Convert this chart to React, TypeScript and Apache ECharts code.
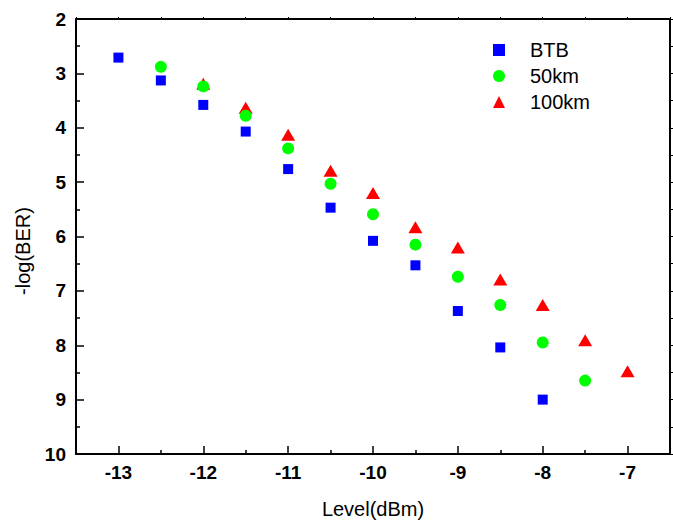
import React, { useEffect, useRef } from "react";
import * as echarts from "echarts";

// Received optical power (dBm) and measured -log(BER) per link
const btbLevel = [-13, -12.5, -12, -11.5, -11, -10.5, -10, -9.5, -9, -8.5, -8];
const btbLogBer = [2.71, 3.13, 3.58, 4.07, 4.76, 5.47, 6.08, 6.53, 7.37, 8.04, 9.0];

const km50Level = [-12.5, -12, -11.5, -11, -10.5, -10, -9.5, -9, -8.5, -8, -7.5];
const km50LogBer = [2.88, 3.24, 3.78, 4.38, 5.03, 5.59, 6.15, 6.74, 7.26, 7.95, 8.65];

const km100Level = [-12, -11.5, -11, -10.5, -10, -9.5, -9, -8.5, -8, -7.5, -7];
const km100LogBer = [3.19, 3.63, 4.13, 4.79, 5.2, 5.83, 6.2, 6.79, 7.26, 7.91, 8.48];

const xMajorTicks = [-13, -12, -11, -10, -9, -8, -7];
const xMinorTicks = [-12.5, -11.5, -10.5, -9.5, -8.5, -7.5];
const xHalfTicks = [-13.5, -13, -12.5, -12, -11.5, -11, -10.5, -10, -9.5, -9, -8.5, -8, -7.5, -7, -6.5];

const seriesNames = ["BTB", "50km", "100km"];

const FONT = "Arial, 'Liberation Sans', Helvetica, sans-serif";

const pairs = (xs: number[], ys: number[]) => xs.map((x, i) => [x, ys[i]]);

export default function App() {
  const ref = useRef<HTMLDivElement>(null);

  useEffect(() => {
    if (!ref.current) return;
    const chart = echarts.init(ref.current, undefined, { renderer: "svg" });

    const lineStyle = { color: "#000", width: 2 };
    const xBase = {
      type: "value",
      min: -13.5,
      max: -6.5,
      splitLine: { show: false },
    };

    chart.setOption({
      animation: false,
      backgroundColor: "#fff",
      grid: { left: 76, right: 3, top: 19, bottom: 73, containLabel: false },
      legend: {
        orient: "vertical",
        left: 493,
        top: 40,
        padding: 0,
        itemWidth: 12,
        itemHeight: 12,
        itemGap: 6,
        data: [
          { name: seriesNames[0], icon: "rect", itemStyle: { color: "#0000ff", opacity: 1 } },
          { name: seriesNames[1], icon: "circle", itemStyle: { color: "#00ff00", opacity: 1 } },
          { name: seriesNames[2], icon: "triangle", itemStyle: { color: "#ff0000", opacity: 1 } },
        ],
        textStyle: {
          fontFamily: FONT,
          fontSize: 20,
          color: "#000",
          lineHeight: 16,
          padding: [0, 0, 0, 20],
        },
      },
      xAxis: [
        {
          ...xBase,
          position: "bottom",
          name: "Level(dBm)",
          nameLocation: "middle",
          nameGap: 45,
          nameTextStyle: { fontFamily: FONT, fontSize: 20, color: "#000" },
          axisLine: { show: true, onZero: false, lineStyle },
          axisTick: {
            show: true,
            inside: true,
            length: 8,
            lineStyle: { color: "#000", width: 1.5 },
            customValues: xMajorTicks,
          },
          axisLabel: {
            customValues: xMajorTicks,
            margin: 9,
            fontFamily: FONT,
            fontSize: 19,
            fontWeight: "bold",
            color: "#000",
          },
        },
        {
          ...xBase,
          position: "bottom",
          axisLine: { show: false, onZero: false },
          axisTick: {
            show: true,
            inside: true,
            length: 4,
            lineStyle: { color: "#000", width: 1.5 },
            customValues: xMinorTicks,
          },
          axisLabel: { show: false },
        },
        {
          ...xBase,
          position: "top",
          axisLine: { show: true, onZero: false, lineStyle },
          axisTick: {
            show: true,
            inside: false,
            length: 2,
            lineStyle: { color: "#000", width: 1 },
            customValues: xHalfTicks,
          },
          axisLabel: { show: false },
        },
      ],
      yAxis: [
        {
          type: "value",
          position: "left",
          inverse: true,
          min: 2,
          max: 10,
          interval: 1,
          splitLine: { show: false },
          axisLine: { show: true, onZero: false, lineStyle },
          axisTick: { show: true, inside: true, length: 8, lineStyle: { color: "#000", width: 1.5 } },
          minorTick: { show: true, splitNumber: 2, length: 4, lineStyle: { color: "#000", width: 1.5 } },
          axisLabel: {
            margin: 10,
            fontFamily: FONT,
            fontSize: 19,
            fontWeight: "bold",
            color: "#000",
          },
        },
        {
          type: "value",
          position: "right",
          inverse: true,
          min: 2,
          max: 10,
          interval: 1,
          splitLine: { show: false },
          axisLine: { show: true, onZero: false, lineStyle },
          axisTick: { show: true, inside: false, length: 5, lineStyle: { color: "#000", width: 1 } },
          minorTick: { show: true, splitNumber: 2, length: 5, lineStyle: { color: "#000", width: 1 } },
          axisLabel: { show: false },
        },
      ],
      graphic: [
        {
          type: "text",
          x: 23,
          y: 251,
          rotation: Math.PI / 2,
          style: {
            text: "-log(BER)",
            fontFamily: FONT,
            fontSize: 20,
            fill: "#000",
            align: "center",
            verticalAlign: "middle",
          },
        },
      ],
      series: [
        {
          name: seriesNames[0],
          type: "scatter",
          symbol: "rect",
          symbolSize: 10,
          itemStyle: { color: "#0000ff", opacity: 1 },
          data: pairs(btbLevel, btbLogBer),
          z: 3,
        },
        {
          name: seriesNames[1],
          type: "scatter",
          symbol: "circle",
          symbolSize: 12,
          itemStyle: { color: "#00ff00", opacity: 1 },
          data: pairs(km50Level, km50LogBer),
          z: 4,
        },
        {
          name: seriesNames[2],
          type: "scatter",
          symbol: "triangle",
          symbolSize: [14, 12],
          itemStyle: { color: "#ff0000", opacity: 1 },
          data: pairs(km100Level, km100LogBer),
          z: 2,
        },
      ],
    });

    return () => chart.dispose();
  }, []);

  return <div ref={ref} style={{ width: 673, height: 527, position: "absolute", left: 0, top: 0 }} />;
}
